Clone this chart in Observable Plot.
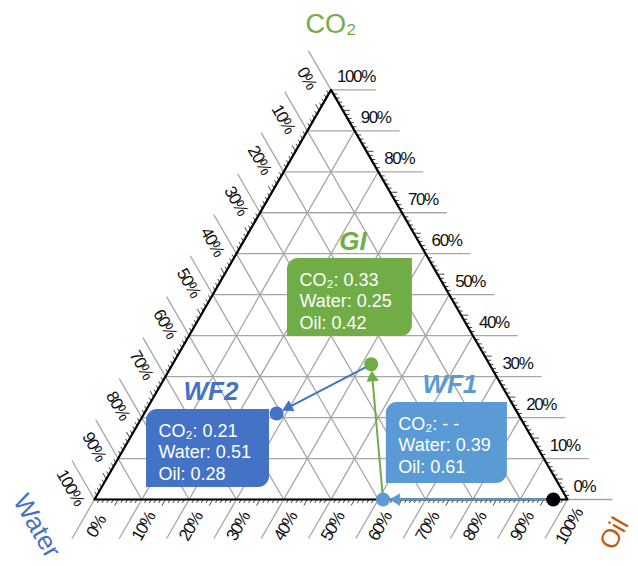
<!DOCTYPE html>
<html><head><meta charset="utf-8">
<script src="https://cdn.jsdelivr.net/npm/d3@7"></script>
<script src="https://cdn.jsdelivr.net/npm/@observablehq/plot@0.6"></script>
<style>body{margin:0;background:#fff} #chart svg{display:block;background:#fff}</style>
</head><body><div id="chart"></div>
<script>
// ---------- data ----------
const states = ["Initial", "WF1", "GI", "WF2"];
const co2Frac = [0.00, 0.00, 0.33, 0.21];
const waterFrac = [0.03, 0.39, 0.25, 0.51];
const oilFrac = [0.97, 0.61, 0.42, 0.28];
const co2Text = ["", "- -", "0.33", "0.21"];
const waterText = ["", "0.39", "0.25", "0.51"];
const oilText = ["", "0.61", "0.42", "0.28"];
const stateColors = ["#000000", "#5b9bd5", "#70ad47", "#4472c4"];
const transitionFrom = ["Initial", "WF1", "GI"];
const transitionTo = ["WF1", "GI", "WF2"];
const majorTicks = [0, 10, 20, 30, 40, 50, 60, 70, 80, 90, 100];
const tickLabels = ["0%", "10%", "20%", "30%", "40%", "50%", "60%", "70%", "80%", "90%", "100%"];
const axisNames = ["CO₂", "Water", "Oil"];
const axisColors = ["#70ad47", "#4472c4", "#c55a11"];

// ---------- layout ----------
const SIDE = 473;              // triangle side in px
const P = v => v / SIDE;       // px -> triangle units
const H = Math.sqrt(3) / 2;
const EXT = P(45);
const DOT_R = 7, HEAD_Y = 3.2; // arrowhead: tip 2*HEAD_Y from centroid
const toX = (c, w, o) => o + c / 2;
const toY = (c, w, o) => c * H;
// annotation boxes (triangle units): left, right, top, bottom
const boxLayout = {
  GI:  [0.408, 0.672, 0.5095, 0.3446],
  WF2: [0.110, 0.370, 0.1903, 0.0254],
  WF1: [0.617, 0.873, 0.2051, 0.0338]
};

const pts = states.map((s, i) => ({
  state: s, X: toX(co2Frac[i], waterFrac[i], oilFrac[i]), Y: toY(co2Frac[i], waterFrac[i], oilFrac[i]), color: stateColors[i]
}));
const byState = Object.fromEntries(pts.map(d => [d.state, d]));
const arrows = transitionFrom.map((f, i) => {
  const a = byState[f], b = byState[transitionTo[i]];
  const dx = b.X - a.X, dy = b.Y - a.Y, len = Math.hypot(dx, dy), ux = dx / len, uy = dy / len;
  const cen = P(DOT_R + 2 * HEAD_Y), base = P(DOT_R + 3 * HEAD_Y - 1);
  const s0 = f === "Initial" ? P(DOT_R) : 0;
  return {
    x1: a.X + ux * s0, y1: a.Y + uy * s0, x2: b.X - ux * base, y2: b.Y - uy * base,
    hx: b.X - ux * cen, hy: b.Y - uy * cen, angle: Math.atan2(dx, dy) * 180 / Math.PI, color: b.color
  };
});

const grid = [], minor = [], rightLab = [], leftLab = [], botLab = [];
majorTicks.forEach((t, i) => {
  const v = t / 100;
  grid.push({x1: v / 2, y1: v * H, x2: 1 - v / 2 + EXT, y2: v * H});
  const lx = (1 - v) / 2, ly = (1 - v) * H;
  grid.push({x1: lx - EXT * 0.5, y1: ly + EXT * H, x2: 1 - v, y2: 0});
  grid.push({x1: v + (1 - v) / 2, y1: (1 - v) * H, x2: v - EXT * 0.5, y2: -EXT * H});
  rightLab.push({x: 1 - v / 2, y: v * H, label: tickLabels[i]});
  leftLab.push({x: lx - (EXT / 2) * 0.5 - P(15) * H, y: ly + (EXT / 2) * H - P(15) * 0.5, label: tickLabels[i]});
  botLab.push({x: v - (EXT / 2) * 0.5 + P(15) * H, y: -(EXT / 2) * H - P(15) * 0.5, label: tickLabels[i]});
});
for (let k = 1; k < 100; k++) {
  if (k % 10 === 0) continue;
  const v = k / 100, L = k % 5 === 0 ? P(7) : P(4);
  minor.push({x1: 1 - v / 2, y1: v * H, x2: 1 - v / 2 + L, y2: v * H});
  const lx = (1 - v) / 2, ly = (1 - v) * H;
  minor.push({x1: lx, y1: ly, x2: lx - L * 0.5, y2: ly + L * H});
  minor.push({x1: v, y1: 0, x2: v - L * 0.5, y2: -L * H});
}
const outline = [{X: 0, Y: 0}, {X: 1, Y: 0}, {X: 0.5, Y: H}, {X: 0, Y: 0}];

const boxes = states.filter(s => boxLayout[s]).map(s => {
  const i = states.indexOf(s), b = boxLayout[s];
  return {state: s, x1: b[0], x2: b[1], top: b[2], bottom: b[3], color: stateColors[i],
    text: `CO₂: ${co2Text[i]}\nWater: ${waterText[i]}\nOil: ${oilText[i]}`};
});
const C = P(12);
const patches = boxes.flatMap(b => [
  {x1: b.x2 - C, x2: b.x2, y1: b.top - C, y2: b.top, color: b.color},
  {x1: b.x1, x2: b.x1 + C, y1: b.bottom, y2: b.bottom + C, color: b.color}
]);

const SANS = "Liberation Sans, Arial, sans-serif";

const chart = Plot.plot({
  width: 638, height: 566,
  x: {domain: [-94 / SIDE, 544 / SIDE], range: [0, 638], axis: null},
  y: {domain: [-67 / SIDE, 499 / SIDE], range: [566, 0], axis: null},
  style: {background: "#fff"},
  marks: [
    Plot.link(grid, {x1: "x1", y1: "y1", x2: "x2", y2: "y2", stroke: "#a6a6a6", strokeWidth: 1.3}),
    Plot.link(minor, {x1: "x1", y1: "y1", x2: "x2", y2: "y2", stroke: "#444", strokeWidth: 1}),
    Plot.line(outline, {x: "X", y: "Y", stroke: "#000", strokeWidth: 2.2}),
    Plot.rect(boxes, {x1: "x1", x2: "x2", y1: "bottom", y2: "top", fill: "color", rx: 11}),
    Plot.rect(patches, {x1: "x1", x2: "x2", y1: "y1", y2: "y2", fill: "color"}),
    Plot.text(boxes, {x: "x1", y: "top", text: "text", dx: 12, dy: 12, textAnchor: "start", lineAnchor: "top",
      fill: "#fff", fontSize: 18, lineHeight: 1.2, fontFamily: SANS}),
    Plot.text(boxes, {x: d => (d.x1 + d.x2) / 2, y: "top", text: "state", dx: 3, dy: -9, textAnchor: "middle",
      lineAnchor: "bottom", fill: "color", fontSize: 26, fontWeight: "bold", fontStyle: "italic", fontFamily: SANS}),
    Plot.link(arrows, {x1: "x1", y1: "y1", x2: "x2", y2: "y2", stroke: "color", strokeWidth: 2}),
    Plot.dot(arrows, {x: "hx", y: "hy", symbol: "triangle", rotate: "angle", r: Math.sqrt(3 * Math.sqrt(3) * HEAD_Y * HEAD_Y / Math.PI),
      fill: "color", stroke: "color", strokeWidth: 0.8}),
    Plot.dot(pts, {x: "X", y: "Y", r: DOT_R, fill: "color"}),
    Plot.text(rightLab, {x: "x", y: "y", text: "label", dx: 6, dy: -8, textAnchor: "start", lineAnchor: "bottom",
      fontSize: 17, fontFamily: SANS, fill: "#111"}),
    Plot.text(leftLab, {x: "x", y: "y", text: "label", rotate: 60, textAnchor: "middle", lineAnchor: "middle",
      fontSize: 17, fontFamily: SANS, fill: "#111"}),
    Plot.text(botLab, {x: "x", y: "y", text: "label", rotate: -60, textAnchor: "middle", lineAnchor: "middle",
      fontSize: 17, fontFamily: SANS, fill: "#111"}),
    Plot.text([axisNames[0]], {x: () => 0.5, y: () => H, text: d => d, dy: -57, textAnchor: "middle", lineAnchor: "bottom",
      fill: axisColors[0], fontSize: 27, fontFamily: SANS}),
    Plot.text([axisNames[1]], {x: () => 0, y: () => 0, text: d => d, dx: -82, dy: 1, rotate: 60, textAnchor: "start",
      lineAnchor: "bottom", fill: axisColors[1], fontSize: 26, fontFamily: SANS}),
    Plot.text([axisNames[2]], {x: () => 1, y: () => 0, text: d => d, dx: 46, dy: 52, rotate: -60, textAnchor: "start",
      lineAnchor: "bottom", fill: axisColors[2], fontSize: 26, fontFamily: SANS})
  ]
});
d3.select(chart).selectAll("text").filter(function() { return /%$/.test(this.textContent); })
  .attr("letter-spacing", "-1.4");
document.getElementById("chart").appendChild(chart);
</script>
</body></html>
